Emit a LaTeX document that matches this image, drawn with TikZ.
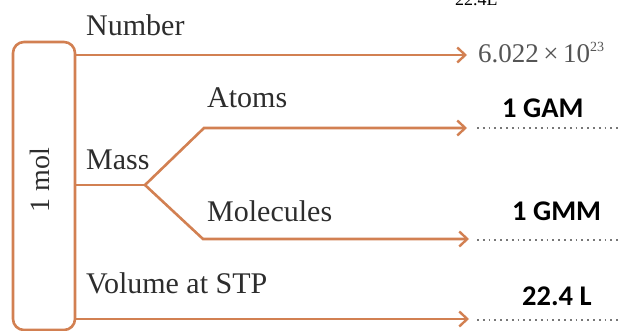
\documentclass[tikz,border=0pt]{standalone}
\usepackage{fontspec}
\setmainfont{Liberation Serif}
\newfontfamily\labfont{Carlito}
\usetikzlibrary{arrows.meta}
\definecolor{brn}{RGB}{210,128,82}
\definecolor{txt}{RGB}{45,45,45}
\definecolor{dotc}{RGB}{120,120,120}
\tikzset{
  conn/.style={draw=brn, line width=2.6pt},
  arr/.style={conn, -{Straight Barb[length=8pt,width=15pt,line width=2.4pt]}},
  molbox/.style={draw=brn, line width=2.6pt, rounded corners=11pt, inner sep=0pt},
  lab/.style={anchor=base west, inner sep=0pt, text=txt, font=\fontsize{30}{30}\selectfont},
  res/.style={anchor=base west, inner sep=0pt, text=black, font=\labfont\bfseries\fontsize{28.5}{28.5}\selectfont},
  dotline/.style={draw=dotc, line width=1.8pt, dash pattern=on 1.8pt off 4pt}
}
\begin{document}
\begin{tikzpicture}[x=1pt,y=-1pt]
\useasboundingbox (0,0) rectangle (618,331);
% box
\node[molbox, minimum width=62pt, minimum height=288pt] (mol) at (44,186) {};
\node[rotate=90, inner sep=0pt, text=txt, font=\fontsize{28}{28}\selectfont] (moltext) at (40,180) {1 mol};
% coordinates
\coordinate (ntip) at (467,55);
\coordinate (br) at (145,185);
\coordinate (ab) at (204,128);
\coordinate (atip) at (467,128);
\coordinate (mb) at (203,239);
\coordinate (mtip) at (469,239);
\coordinate (vtip) at (469,319);
\coordinate (dA) at (477,128);
\coordinate (dAe) at (620,128);
\coordinate (dM) at (477,240);
\coordinate (dMe) at (620,240);
\coordinate (dV) at (477,320);
\coordinate (dVe) at (620,320);
% connectors
\draw[arr] (mol.east |- ntip) -- (ntip);
\draw[conn] (mol.east |- br) -- (br);
\draw[arr] (br) -- (ab) -- (atip);
\draw[arr] (br) -- (mb) -- (mtip);
\draw[arr] (mol.east |- vtip) -- (vtip);
\draw[dotline] (dA) -- (dAe);
\draw[dotline] (dM) -- (dMe);
\draw[dotline] (dV) -- (dVe);
% labels
\node[lab] (number) at (86,36) {Number};
\node[lab] (atoms) at (207,108) {Atoms};
\node[lab] (mass) at (86,170) {Mass};
\node[lab] (molec) at (207,222) {Molecules};
\node[lab] (vol) at (86,293) {Volume at STP};
\node[anchor=base west, inner sep=0pt, text={rgb,255:red,85;green,85;blue,85}, font=\fontsize{27}{27}\selectfont] (avog) at (478,63) {6.022\,×\,10\raisebox{0.42em}{\fontsize{14}{14}\selectfont 23}};
\node[res] (gam) at (502,118) {1 GAM};
\node[res] (gmm) at (512,220) {1 GMM};
\node[res] (vl) at (522,305) {22.4 L};
\node[anchor=base west, inner sep=0pt, text=black, font=\fontsize{18}{18}\selectfont] (top) at (455,6) {22.4L};
\end{tikzpicture}
\end{document}
